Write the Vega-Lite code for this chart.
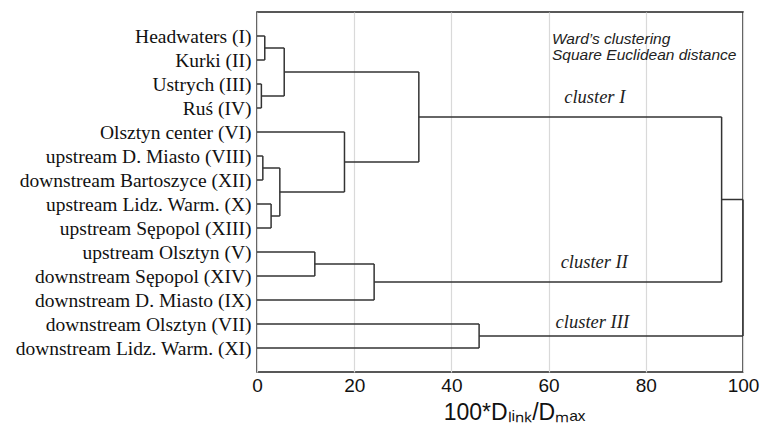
{
  "$schema": "https://vega.github.io/schema/vega-lite/v6.json",
  "width": 486,
  "height": 360,
  "autosize": "none",
  "padding": {"left": 257, "top": 12, "right": 32, "bottom": 54},
  "background": "white",
  "config": {
    "view": {"stroke": "#222", "strokeWidth": 1.5},
    "font": "Liberation Sans"
  },
  "layer": [
    {
      "data": {
        "values": [
          {"x": 0, "x2": 1.6, "y": 0, "y2": 0},
          {"x": 0, "x2": 1.6, "y": 1, "y2": 1},
          {"x": 1.6, "x2": 1.6, "y": 0, "y2": 1},
          {"x": 0, "x2": 0.9, "y": 2, "y2": 2},
          {"x": 0, "x2": 0.9, "y": 3, "y2": 3},
          {"x": 0.9, "x2": 0.9, "y": 2, "y2": 3},
          {"x": 1.6, "x2": 5.6, "y": 0.5, "y2": 0.5},
          {"x": 0.9, "x2": 5.6, "y": 2.5, "y2": 2.5},
          {"x": 5.6, "x2": 5.6, "y": 0.5, "y2": 2.5},
          {"x": 0, "x2": 1.2, "y": 5, "y2": 5},
          {"x": 0, "x2": 1.2, "y": 6, "y2": 6},
          {"x": 1.2, "x2": 1.2, "y": 5, "y2": 6},
          {"x": 0, "x2": 2.9, "y": 7, "y2": 7},
          {"x": 0, "x2": 2.9, "y": 8, "y2": 8},
          {"x": 2.9, "x2": 2.9, "y": 7, "y2": 8},
          {"x": 1.2, "x2": 4.7, "y": 5.5, "y2": 5.5},
          {"x": 2.9, "x2": 4.7, "y": 7.5, "y2": 7.5},
          {"x": 4.7, "x2": 4.7, "y": 5.5, "y2": 7.5},
          {"x": 0, "x2": 18, "y": 4, "y2": 4},
          {"x": 4.7, "x2": 18, "y": 6.5, "y2": 6.5},
          {"x": 18, "x2": 18, "y": 4, "y2": 6.5},
          {"x": 5.6, "x2": 33.3, "y": 1.5, "y2": 1.5},
          {"x": 18, "x2": 33.3, "y": 5.25, "y2": 5.25},
          {"x": 33.3, "x2": 33.3, "y": 1.5, "y2": 5.25},
          {"x": 0, "x2": 11.9, "y": 9, "y2": 9},
          {"x": 0, "x2": 11.9, "y": 10, "y2": 10},
          {"x": 11.9, "x2": 11.9, "y": 9, "y2": 10},
          {"x": 11.9, "x2": 24.1, "y": 9.5, "y2": 9.5},
          {"x": 0, "x2": 24.1, "y": 11, "y2": 11},
          {"x": 24.1, "x2": 24.1, "y": 9.5, "y2": 11},
          {"x": 33.3, "x2": 95.6, "y": 3.375, "y2": 3.375},
          {"x": 24.1, "x2": 95.6, "y": 10.25, "y2": 10.25},
          {"x": 95.6, "x2": 95.6, "y": 3.375, "y2": 10.25},
          {"x": 0, "x2": 45.7, "y": 12, "y2": 12},
          {"x": 0, "x2": 45.7, "y": 13, "y2": 13},
          {"x": 45.7, "x2": 45.7, "y": 12, "y2": 13},
          {"x": 95.6, "x2": 100, "y": 6.8125, "y2": 6.8125},
          {"x": 45.7, "x2": 100, "y": 12.5, "y2": 12.5},
          {"x": 100, "x2": 100, "y": 6.8125, "y2": 12.5}
        ]
      },
      "mark": {"type": "rule", "stroke": "#333", "strokeWidth": 1.5},
      "encoding": {
        "x": {
          "field": "x", "type": "quantitative",
          "scale": {"domain": [0, 100], "nice": false, "zero": false},
          "axis": {
            "values": [0, 20, 40, 60, 80, 100], "tickCount": 20,
            "grid": true, "gridColor": "#d9d9d9", "gridWidth": 1.2,
            "domain": false, "ticks": false,
            "labelFlush": false, "labelPadding": 4,
            "labelFontSize": 19, "labelColor": "#111",
            "title": "100*Dₗᵢₙₖ/Dₘₐₓ",
            "titleFontSize": 23, "titleFontWeight": "normal", "titleColor": "#111",
            "titlePadding": 6, "titleX": 257
          }
        },
        "x2": {"field": "x2"},
        "y": {
          "field": "y", "type": "quantitative",
          "scale": {"domain": [-1, 14], "reverse": true, "nice": false, "zero": false},
          "axis": {
            "values": [0, 1, 2, 3, 4, 5, 6, 7, 8, 9, 10, 11, 12, 13],
            "tickCount": 30,
            "labelExpr": "['Headwaters (I)','Kurki (II)','Ustrych (III)','Ruś (IV)','Olsztyn center (VI)','upstream D. Miasto (VIII)','downstream Bartoszyce (XII)','upstream Lidz. Warm. (X)','upstream Sępopol (XIII)','upstream Olsztyn (V)','downstream Sępopol  (XIV)','downstream D. Miasto (IX)','downstream Olsztyn (VII)','downstream Lidz. Warm. (XI)'][datum.value]",
            "grid": false, "domain": false, "ticks": false,
            "labelFont": "Liberation Serif", "labelFontSize": 19.5,
            "labelColor": "#111", "labelPadding": 6, "labelLimit": 400,
            "labelOverlap": false,
            "title": null
          }
        },
        "y2": {"field": "y2"}
      }
    },
    {
      "data": {
        "values": [
          {"label": "Ward’s clustering", "x": 60.7, "y": 0.333},
          {"label": "Square Euclidean distance", "x": 60.7, "y": 1.0}
        ]
      },
      "mark": {"type": "text", "font": "Liberation Sans", "fontStyle": "italic", "fontSize": 15.5, "align": "left", "baseline": "alphabetic", "fill": "#222"},
      "encoding": {
        "x": {"field": "x", "type": "quantitative"},
        "y": {"field": "y", "type": "quantitative"},
        "text": {"field": "label"}
      }
    },
    {
      "data": {
        "values": [
          {"label": "cluster I", "x": 69.5, "y": 2.8},
          {"label": "cluster II", "x": 69.4, "y": 9.68},
          {"label": "cluster III", "x": 69.0, "y": 12.18}
        ]
      },
      "mark": {"type": "text", "font": "Liberation Serif", "fontStyle": "italic", "fontSize": 18.5, "align": "center", "baseline": "alphabetic", "fill": "#222"},
      "encoding": {
        "x": {"field": "x", "type": "quantitative"},
        "y": {"field": "y", "type": "quantitative"},
        "text": {"field": "label"}
      }
    }
  ]
}
